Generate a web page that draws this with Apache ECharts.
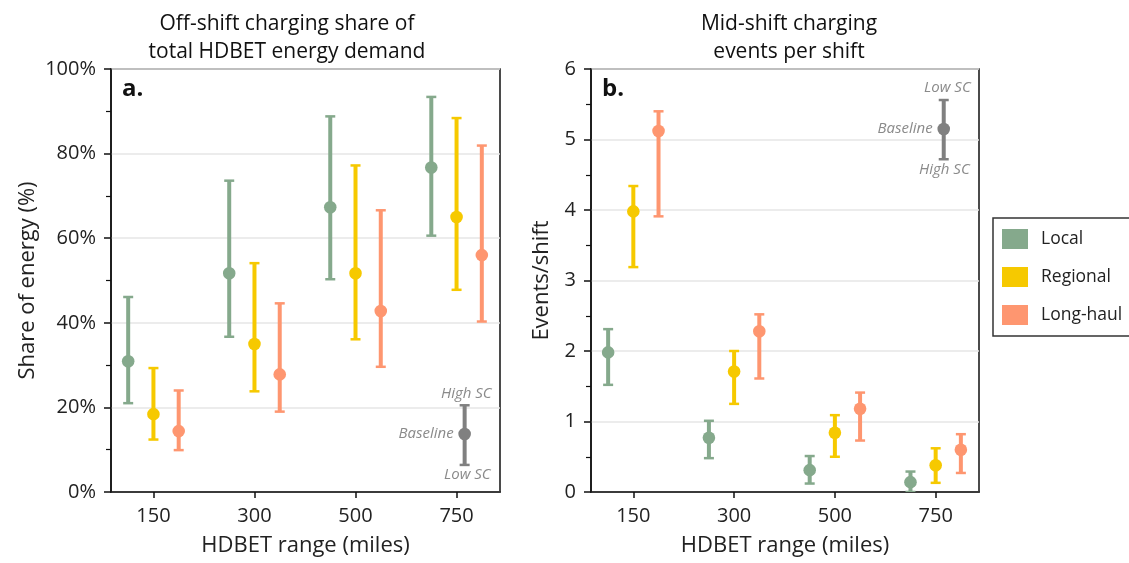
<!DOCTYPE html>
<html>
<head>
<meta charset="utf-8">
<script src="https://cdn.jsdelivr.net/npm/echarts@6/dist/echarts.min.js"></script>
<style>html,body{margin:0;padding:0;background:#fff;}#c{width:1129px;height:563px;}</style>
</head>
<body>
<div id="c"></div>
<script>
// ---- data ----
const categories = ['150', '300', '500', '750'];
const seriesNames = ['Local', 'Regional', 'Long-haul'];

// Panel a: off-shift charging share (%)
const energyLocal = [30.9, 51.7, 67.3, 76.7];
const energyLocalLow = [21.0, 36.7, 50.3, 60.6];
const energyLocalHigh = [46.1, 73.6, 88.8, 93.4];
const energyRegional = [18.4, 35.0, 51.7, 65.0];
const energyRegionalLow = [12.4, 23.8, 36.1, 47.8];
const energyRegionalHigh = [29.3, 54.1, 77.2, 88.4];
const energyLong = [14.4, 27.8, 42.8, 56.0];
const energyLongLow = [9.9, 19.0, 29.6, 40.3];
const energyLongHigh = [24.0, 44.6, 66.6, 81.9];
// baseline legend glyph: [baseline, lower, upper]
const energyKey = [13.7, 6.4, 20.5];

// Panel b: mid-shift charging events per shift
const eventsLocal = [1.98, 0.77, 0.31, 0.14];
const eventsLocalLow = [1.52, 0.48, 0.12, 0.0];
const eventsLocalHigh = [2.31, 1.01, 0.51, 0.29];
const eventsRegional = [3.98, 1.71, 0.84, 0.38];
const eventsRegionalLow = [3.19, 1.25, 0.50, 0.13];
const eventsRegionalHigh = [4.34, 2.00, 1.09, 0.62];
const eventsLong = [5.12, 2.28, 1.18, 0.60];
const eventsLongLow = [3.91, 1.61, 0.73, 0.27];
const eventsLongHigh = [5.40, 2.52, 1.41, 0.82];
const eventsKey = [5.15, 4.72, 5.56];

const yTicksA = [0, 20, 40, 60, 80, 100];
const yTicksB = [0, 1, 2, 3, 4, 5, 6];

// ---- style ----
const colors = ['#85a98c', '#f6c900', '#fe9670'];
const keyColor = '#808080';
const groupOffsets = [-0.25, 0, 0.25];
const keyX = 3.08;
const FONT = 'Open Sans';

function build(vals, lows, highs, off) {
  return vals.map((v, i) => [i + off, v, lows[i], highs[i]]);
}

function errRender(params, api) {
  const x = api.value(0);
  const c = api.coord([x, api.value(1)]);
  const lo = api.coord([x, api.value(2)]);
  const hi = api.coord([x, api.value(3)]);
  const col = api.visual('color');
  const capW = 5;
  return {
    type: 'group',
    children: [
      { type: 'line', shape: { x1: c[0], y1: lo[1], x2: c[0], y2: hi[1] }, style: { stroke: col, lineWidth: 4 } },
      { type: 'line', shape: { x1: c[0] - capW, y1: lo[1], x2: c[0] + capW, y2: lo[1] }, style: { stroke: col, lineWidth: 2.5 } },
      { type: 'line', shape: { x1: c[0] - capW, y1: hi[1], x2: c[0] + capW, y2: hi[1] }, style: { stroke: col, lineWidth: 2.5 } },
      { type: 'circle', shape: { cx: c[0], cy: c[1], r: 6.3 }, style: { fill: col } }
    ]
  };
}

function keyRender(upperLabel, lowerLabel) {
  return function (params, api) {
    const x = api.value(0);
    const c = api.coord([x, api.value(1)]);
    const lo = api.coord([x, api.value(2)]);
    const hi = api.coord([x, api.value(3)]);
    const capW = 5;
    const ts = { fill: '#8a8a8a', fontFamily: FONT, fontStyle: 'italic', fontSize: 15 };
    const top = Math.min(lo[1], hi[1]);
    const bot = Math.max(lo[1], hi[1]);
    return {
      type: 'group',
      children: [
        { type: 'line', shape: { x1: c[0], y1: lo[1], x2: c[0], y2: hi[1] }, style: { stroke: keyColor, lineWidth: 4 } },
        { type: 'line', shape: { x1: c[0] - capW, y1: lo[1], x2: c[0] + capW, y2: lo[1] }, style: { stroke: keyColor, lineWidth: 2.5 } },
        { type: 'line', shape: { x1: c[0] - capW, y1: hi[1], x2: c[0] + capW, y2: hi[1] }, style: { stroke: keyColor, lineWidth: 2.5 } },
        { type: 'circle', shape: { cx: c[0], cy: c[1], r: 6.3 }, style: { fill: keyColor } },
        { type: 'text', x: c[0] + 27, y: top - 12, style: Object.assign({ text: upperLabel, align: 'right', verticalAlign: 'middle' }, ts) },
        { type: 'text', x: c[0] - 11, y: c[1], style: Object.assign({ text: 'Baseline', align: 'right', verticalAlign: 'middle' }, ts) },
        { type: 'text', x: c[0] + 26, y: bot + 10, style: Object.assign({ text: lowerLabel, align: 'right', verticalAlign: 'middle' }, ts) }
      ]
    };
  };
}

const pos = [0, 1, 2, 3];

function xAxis(gi) {
  return {
    type: 'value', gridIndex: gi, min: -0.42, max: 3.43,
    name: 'HDBET range (miles)', nameLocation: 'middle', nameGap: 43,
    nameTextStyle: { fontFamily: FONT, fontSize: 22, color: '#222' },
    axisLine: { show: true, onZero: false, lineStyle: { color: '#111', width: 1.5 } },
    axisTick: { show: true, customValues: pos, length: 6, lineStyle: { color: '#111', width: 1.5 } },
    axisLabel: { customValues: pos, formatter: v => categories[Math.round(v)], fontFamily: FONT, fontSize: 20, color: '#222', margin: 14 },
    splitLine: { show: false }
  };
}

function yAxis(gi, ticks, name, gap, fmt) {
  return {
    type: 'value', gridIndex: gi, min: ticks[0], max: ticks[ticks.length - 1], interval: ticks[1] - ticks[0],
    name: name, nameLocation: 'middle', nameGap: gap,
    nameTextStyle: { fontFamily: FONT, fontSize: 22, color: '#222' },
    axisLine: { show: true, onZero: false, lineStyle: { color: '#111', width: 1.5 } },
    axisTick: { show: true, length: 7, lineStyle: { color: '#111', width: 1.5 } },
    minorTick: { show: true, splitNumber: 2, length: 5, lineStyle: { color: '#111', width: 1.2 } },
    axisLabel: { formatter: fmt, fontFamily: FONT, fontSize: 20, color: '#222', margin: 15 },
    splitLine: { show: true, lineStyle: { color: '#e6e6e6', width: 1.5 } }
  };
}

const series = [];
const energySets = [
  [energyLocal, energyLocalLow, energyLocalHigh],
  [energyRegional, energyRegionalLow, energyRegionalHigh],
  [energyLong, energyLongLow, energyLongHigh]
];
const eventSets = [
  [eventsLocal, eventsLocalLow, eventsLocalHigh],
  [eventsRegional, eventsRegionalLow, eventsRegionalHigh],
  [eventsLong, eventsLongLow, eventsLongHigh]
];
seriesNames.forEach((n, k) => {
  series.push({ type: 'custom', name: n, xAxisIndex: 0, yAxisIndex: 0, clip: true, itemStyle: { color: colors[k] },
    renderItem: errRender, data: build(energySets[k][0], energySets[k][1], energySets[k][2], groupOffsets[k]) });
  series.push({ type: 'custom', name: n, xAxisIndex: 1, yAxisIndex: 1, clip: true, itemStyle: { color: colors[k] },
    renderItem: errRender, data: build(eventSets[k][0], eventSets[k][1], eventSets[k][2], groupOffsets[k]) });
});
series.push({ type: 'custom', name: 'keyA', xAxisIndex: 0, yAxisIndex: 0, renderItem: keyRender('High SC', 'Low SC'),
  data: [[keyX, energyKey[0], energyKey[1], energyKey[2]]] });
series.push({ type: 'custom', name: 'keyB', xAxisIndex: 1, yAxisIndex: 1, renderItem: keyRender('Low SC', 'High SC'),
  data: [[keyX, eventsKey[0], eventsKey[1], eventsKey[2]]] });

const chart = echarts.init(document.getElementById('c'), null, { renderer: 'canvas' });
chart.setOption({
  backgroundColor: '#fff',
  animation: false,
  title: [
    { text: 'Off-shift charging share of\ntotal HDBET energy demand', left: 282, top: 5, textAlign: 'center',
      textStyle: { fontFamily: FONT, fontSize: 21, fontWeight: 'normal', color: '#111', lineHeight: 28 } },
    { text: 'Mid-shift charging\nevents per shift', left: 784, top: 5, textAlign: 'center',
      textStyle: { fontFamily: FONT, fontSize: 21, fontWeight: 'normal', color: '#111', lineHeight: 28 } },
    { text: 'a.', left: 117, top: 72, textStyle: { fontFamily: FONT, fontSize: 24, fontWeight: 'bold', color: '#111' } },
    { text: 'b.', left: 597, top: 72, textStyle: { fontFamily: FONT, fontSize: 24, fontWeight: 'bold', color: '#111' } }
  ],
  legend: {
    data: seriesNames, orient: 'vertical', left: 993, top: 218,
    icon: 'rect', itemWidth: 26, itemHeight: 20, itemGap: 18,
    padding: [11, 60, 11, 9], borderColor: '#333', borderWidth: 1.5,
    textStyle: { fontFamily: FONT, fontSize: 17.5, color: '#222', padding: [0, 0, 0, 8] }
  },
  grid: [
    { left: 111, top: 69, width: 389, height: 423, show: true, borderColor: '#111', borderWidth: 1.5, backgroundColor: 'transparent' },
    { left: 591, top: 69, width: 388, height: 423, show: true, borderColor: '#111', borderWidth: 1.5, backgroundColor: 'transparent' }
  ],
  xAxis: [xAxis(0), xAxis(1)],
  yAxis: [
    yAxis(0, yTicksA, 'Share of energy (%)', 72, v => v + '%'),
    yAxis(1, yTicksB, 'Events/shift', 38, v => String(v))
  ],
  series: series
});
</script>
</body>
</html>
